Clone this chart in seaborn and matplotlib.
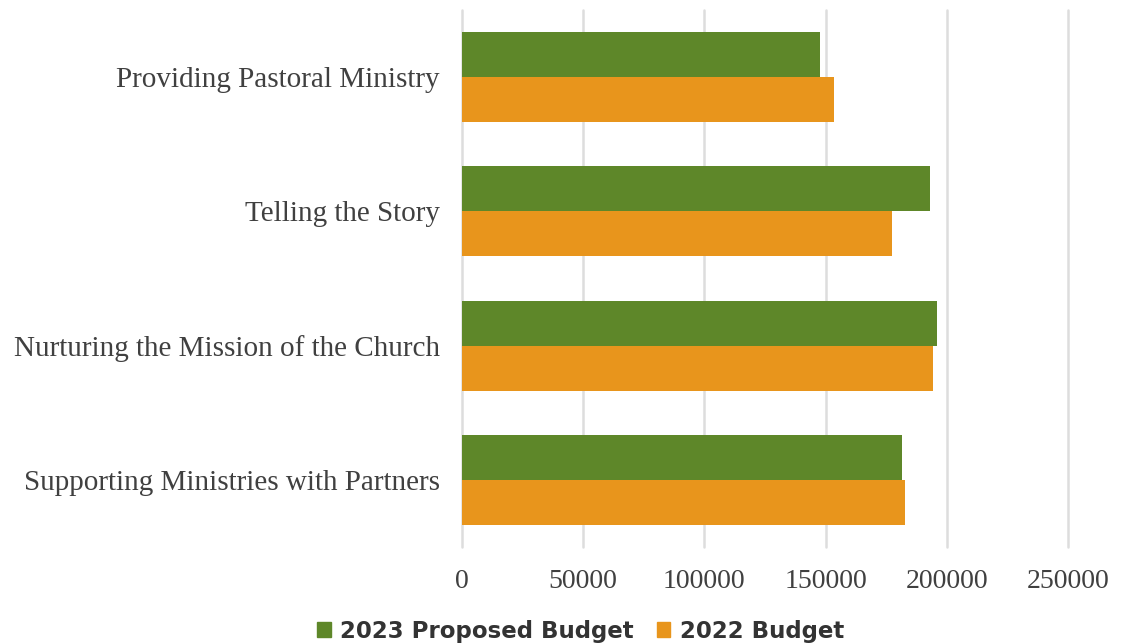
import pandas as pd
import numpy as np
import seaborn as sns
import matplotlib.pyplot as plt

# values
categories = ['Providing Pastoral Ministry', 'Telling the Story',
              'Nurturing the Mission of the Church', 'Supporting Ministries with Partners']
budget_2023 = [147800, 193000, 196100, 181700]
budget_2022 = [153300, 177500, 194200, 182600]
series_names = ['2023 Proposed Budget', '2022 Budget']
x_ticks = [0, 50000, 100000, 150000, 200000, 250000]

df = pd.DataFrame({
    'category': categories * 2,
    'value': budget_2023 + budget_2022,
    'series': [series_names[0]] * len(categories) + [series_names[1]] * len(categories),
})

sns.set_style('white')
plt.rcParams['font.family'] = ['Liberation Serif', 'DejaVu Serif']

fig = plt.figure(figsize=(11.23, 6.44), dpi=100)
ax = fig.add_axes([0.4114, 0.1506, 0.951 - 0.4114, 0.9845 - 0.1506])

palette = {series_names[0]: '#5E8729', series_names[1]: '#E8951C'}
sns.barplot(data=df, y='category', x='value', hue='series', order=categories,
            hue_order=series_names, palette=palette, orient='h', width=0.67,
            saturation=1, linewidth=0, ax=ax, legend=False)

ax.set_xlim(0, 250000)
ax.set_xticks(x_ticks)
ax.set_xticklabels([str(t) for t in x_ticks])
ax.grid(axis='x', color='#DDDDDD', linewidth=1.8)
for gl in ax.get_xgridlines():
    gl.set_clip_on(False)
ax.set_axisbelow(True)
for s in ax.spines.values():
    s.set_visible(False)
ax.set_xlabel('')
ax.set_ylabel('')
ax.tick_params(axis='y', length=0, pad=16, labelsize=21, labelcolor='#404040')
ax.tick_params(axis='x', length=0, pad=16, labelsize=20, labelcolor='#404040')

handles = [plt.Rectangle((0, 0), 1, 1, color=palette[n]) for n in series_names]
fig.legend(handles, series_names, loc='lower center', bbox_to_anchor=(0.517, -0.03),
           ncol=2, frameon=False, handlelength=0.6, handleheight=0.6, handletextpad=0.4,
           columnspacing=1.0,
           prop={'family': 'DejaVu Sans', 'weight': 'bold', 'size': 16.5},
           labelcolor='#333333')

plt.savefig('out.png', dpi=100)
